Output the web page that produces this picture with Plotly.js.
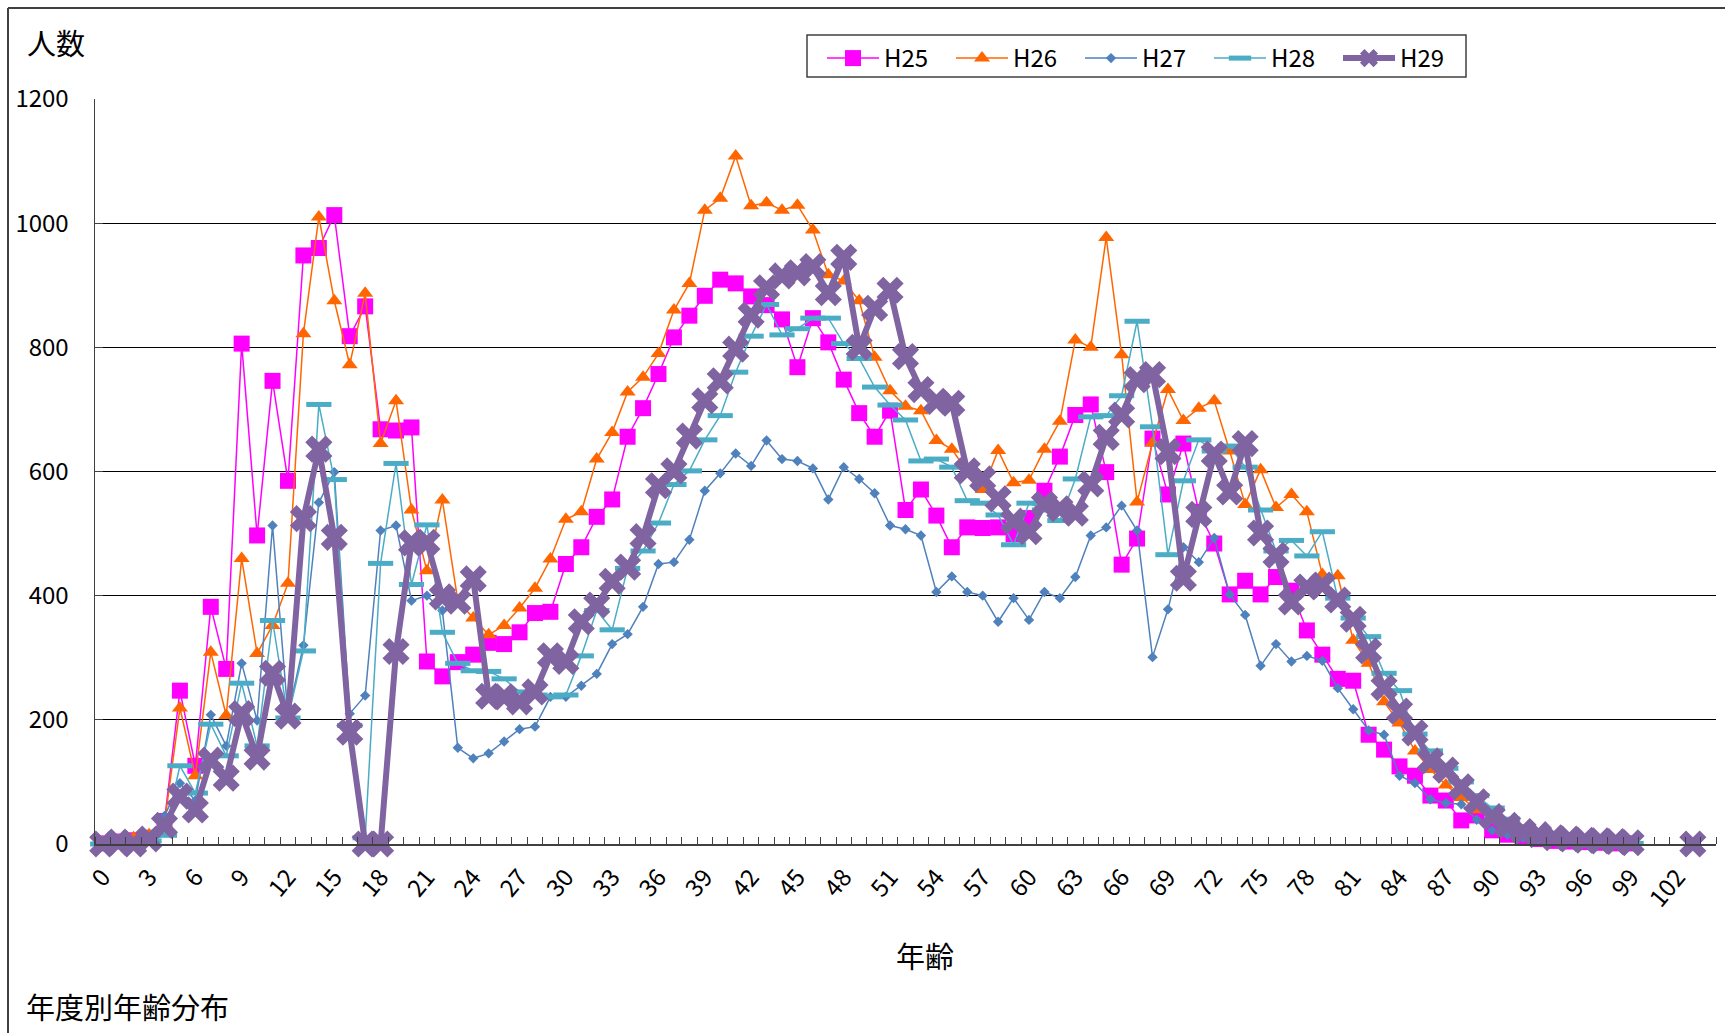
<!DOCTYPE html>
<html>
<head>
<meta charset="utf-8">
<script src="https://cdn.plot.ly/plotly-3.0.1.min.js"></script>
<style>
html,body{margin:0;padding:0;background:#fff;}
#chart{width:1725px;height:1033px;}
</style>
</head>
<body>
<div id="chart"></div>
<script>
// Categories: age 0..104
const ages = [0,1,2,3,4,5,6,7,8,9,10,11,12,13,14,15,16,17,18,19,20,21,22,23,24,25,26,27,28,29,
30,31,32,33,34,35,36,37,38,39,40,41,42,43,44,45,46,47,48,49,50,51,52,53,54,55,56,57,58,59,
60,61,62,63,64,65,66,67,68,69,70,71,72,73,74,75,76,77,78,79,80,81,82,83,84,85,86,87,88,89,
90,91,92,93,94,95,96,97,98,99,100,101,102,103,104];

const tickAges = [0,3,6,9,12,15,18,21,24,27,30,33,36,39,42,45,48,51,54,57,60,63,66,69,72,75,78,81,84,87,90,93,96,99,102];
const tickLabels = ["0","3","6","9","12","15","18","21","24","27","30","33","36","39","42","45","48","51","54","57","60","63","66","69","72","75","78","81","84","87","90","93","96","99","102"];

const seriesNames = ["H25","H26","H27","H28","H29"];

const h25 = [1,4,6,10,37,247,126,382,282,806,497,746,585,948,960,1013,818,866,668,666,
671,294,270,293,305,324,322,341,372,374,451,478,527,555,656,702,757,816,851,883,
909,903,882,868,845,768,847,808,748,694,656,698,538,571,529,478,510,509,510,499,
525,569,624,691,708,599,450,492,653,563,645,535,484,402,424,402,430,408,344,305,
266,263,176,152,125,110,78,70,38,46,22,15,10,8,5,4,3,2,1,1,
null,null,null,null,null];

const h26 = [2,5,10,15,33,219,110,309,207,460,307,352,420,822,1010,875,772,887,645,714,
538,440,554,392,364,337,352,380,412,459,523,535,620,663,728,752,790,860,903,1021,
1040,1108,1028,1033,1021,1029,989,917,907,875,784,730,705,698,650,636,600,571,634,582,
586,636,681,812,800,977,788,551,646,732,682,702,714,633,547,603,542,563,535,434,
432,328,291,229,195,150,120,95,75,55,44,28,18,12,8,5,4,2,1,1,
null,null,null,null,null];

const h27 = [0,1,3,8,45,98,70,208,158,291,199,513,207,320,550,599,210,239,505,513,
392,400,376,155,138,146,165,185,189,237,237,255,274,322,338,382,451,454,490,569,
597,629,609,650,620,617,605,555,607,588,565,513,507,497,406,431,406,400,358,396,
361,406,396,430,497,510,545,505,301,378,478,454,493,402,369,287,322,294,303,295,
251,217,183,176,110,98,72,66,64,39,22,15,10,7,5,3,2,1,1,0,
null,null,null,null,null];

const h28 = [0,0,2,5,14,126,82,193,142,259,158,360,203,311,708,587,191,10,452,613,
418,514,341,291,279,278,266,245,240,237,240,303,376,345,444,472,517,579,601,651,
690,760,818,869,820,830,847,847,806,782,736,707,683,617,620,607,553,549,530,482,
549,538,521,588,688,690,722,842,672,466,585,651,633,641,607,538,472,489,464,503,
396,364,334,275,247,177,150,122,100,78,58,40,28,18,12,8,5,3,2,1,
null,null,null,null,null];

const h29 = [0,3,0,8,30,77,55,135,106,210,140,275,206,524,636,494,180,0,0,310,
485,486,398,391,427,238,237,229,245,303,294,358,385,423,446,495,577,601,657,714,
746,797,852,896,915,920,930,888,945,800,863,892,785,732,713,710,601,588,556,520,
503,547,540,533,580,655,691,748,756,632,428,531,628,567,645,501,465,390,414,417,
393,362,311,252,214,179,134,119,92,68,44,30,20,15,10,8,6,5,4,2,
null,null,null,0,null];

const yTicks = [0,200,400,600,800,1000,1200];
const gridVals = [200,400,600,800,1000];

// layout geometry (pixels)
const W = 1725, H = 1033;
const L = 95, R = 9, T = 99, B = 189;
const PW = W - L - R, PH = H - T - B;
const px2x = p => (p - L) / PW;
const py2y = p => (H - B - p) / PH;

const FONT = "'Noto Sans CJK JP', 'Noto Sans', sans-serif";

const common = {x: ages, type: 'scatter', mode: 'lines+markers', cliponaxis: false, connectgaps: false, hoverinfo: 'x+y+name'};

const traces = [
  Object.assign({}, common, {name: seriesNames[0], y: h25,
    line: {color: '#FF00FF', width: 1.5},
    marker: {symbol: 'square', size: 16, color: '#FF00FF'}}),
  Object.assign({}, common, {name: seriesNames[1], y: h26,
    line: {color: '#FF6600', width: 1.5},
    marker: {symbol: 'triangle-up', size: 14, color: '#FF6600'}}),
  Object.assign({}, common, {name: seriesNames[2], y: h27,
    line: {color: '#4F81BD', width: 1.5},
    marker: {symbol: 'diamond', size: 8, color: '#4F81BD'}}),
  Object.assign({}, common, {name: seriesNames[3], y: h28,
    line: {color: '#4BACC6', width: 1.5},
    marker: {symbol: 'line-ew', size: 18, color: '#4BACC6', line: {color: '#4BACC6', width: 5}}}),
  Object.assign({}, common, {name: seriesNames[4], y: h29,
    line: {color: '#8064A2', width: 6},
    marker: {symbol: 'x', size: 24, color: '#8064A2'}}),
  {x: [null], y: [null], yaxis: 'y2', type: 'scatter', mode: 'markers', showlegend: false, hoverinfo: 'skip'}
];

const layout = {
  width: W, height: H,
  margin: {l: L, r: R, t: T, b: B, pad: 0},
  paper_bgcolor: '#ffffff', plot_bgcolor: '#ffffff',
  font: {family: FONT, size: 24, color: '#000000'},
  showlegend: true,
  legend: {
    orientation: 'h', x: px2x(822), y: py2y(36), xanchor: 'left', yanchor: 'top',
    borderwidth: 0, bgcolor: 'rgba(0,0,0,0)',
    font: {family: FONT, size: 24, color: '#000000'},
    itemwidth: 52, entrywidth: 62, traceorder: 'normal'
  },
  xaxis: {
    range: [-0.5, 104.5], fixedrange: true,
    tickmode: 'array', tickvals: tickAges, ticktext: tickLabels,
    ticks: '', tickangle: -50, ticklabelstandoff: 8,
    tickfont: {family: FONT, size: 24, color: '#000'},
    showline: true, linecolor: '#404040', linewidth: 1.5,
    showgrid: false, zeroline: false,
    minor: {tickmode: 'linear', tick0: -0.5, dtick: 1, ticks: 'inside', ticklen: 7, tickwidth: 1, tickcolor: '#404040', showgrid: false}
  },
  yaxis: {
    range: [0, 1200], fixedrange: true,
    tickmode: 'array', tickvals: yTicks,
    ticks: 'inside', ticklen: 8, tickwidth: 1, tickcolor: '#404040',
    ticklabelstandoff: 20,
    tickfont: {family: FONT, size: 24, color: '#000'},
    showline: true, linecolor: '#404040', linewidth: 1.5,
    showgrid: false, zeroline: false
  },
  yaxis2: {
    overlaying: 'y', range: [0, 1200], fixedrange: true,
    tickmode: 'array', tickvals: gridVals,
    showgrid: true, gridcolor: '#000000', gridwidth: 1,
    showticklabels: false, ticks: '', showline: false, zeroline: false
  },
  annotations: [
    {text: '人数', xref: 'paper', yref: 'paper', x: px2x(25), y: py2y(42), xanchor: 'left', yanchor: 'middle', showarrow: false,
     font: {family: FONT, size: 29, color: '#000'}},
    {text: '年齢', xref: 'paper', yref: 'paper', x: px2x(925), y: py2y(955), xanchor: 'center', yanchor: 'middle', showarrow: false,
     font: {family: FONT, size: 29, color: '#000'}},
    {text: '年度別年齢分布', xref: 'paper', yref: 'paper', x: px2x(24), y: py2y(1006), xanchor: 'left', yanchor: 'middle', showarrow: false,
     font: {family: FONT, size: 29, color: '#000'}}
  ],
  shapes: [
    {type: 'line', xref: 'paper', yref: 'paper', x0: px2x(8), x1: px2x(1725), y0: py2y(8), y1: py2y(8), line: {color: '#404040', width: 2}},
    {type: 'line', xref: 'paper', yref: 'paper', x0: px2x(8), x1: px2x(8), y0: py2y(8), y1: py2y(1033), line: {color: '#404040', width: 2}},
    {type: 'rect', xref: 'paper', yref: 'paper', x0: px2x(807), x1: px2x(1466), y0: py2y(35), y1: py2y(77), line: {color: '#404040', width: 1.5}, fillcolor: 'rgba(0,0,0,0)', layer: 'above'}
  ]
};

Plotly.newPlot('chart', traces, layout, {displayModeBar: false, staticPlot: true});
</script>
</body>
</html>
